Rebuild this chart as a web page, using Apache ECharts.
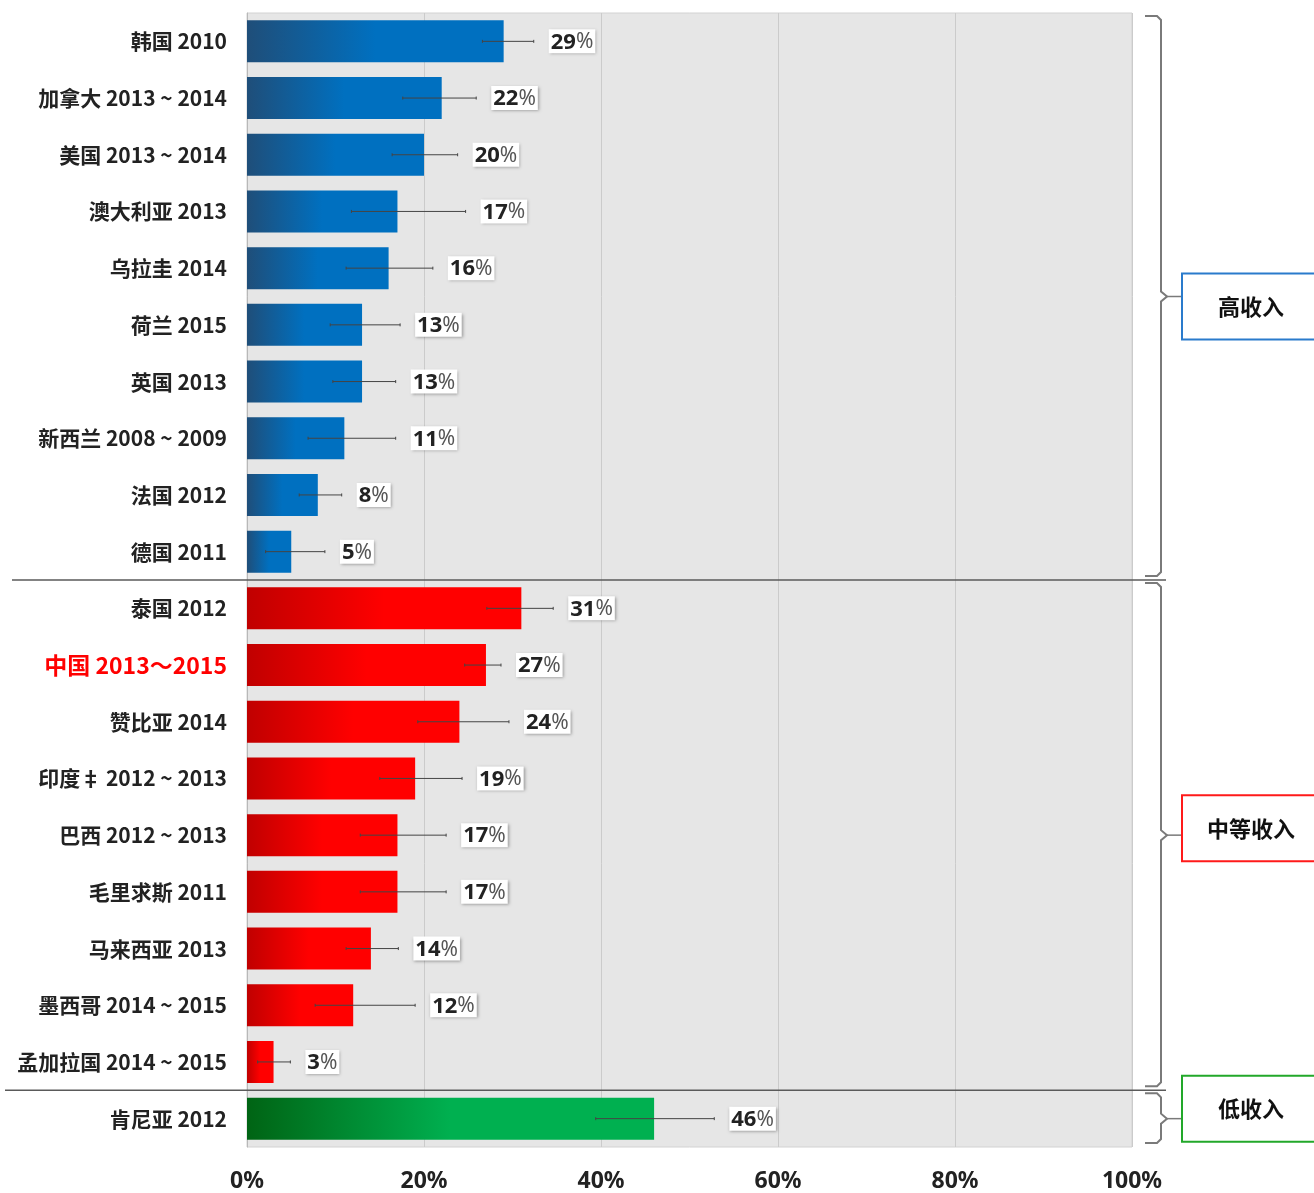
<!DOCTYPE html>
<html>
<head>
<meta charset="utf-8">
<script src="https://cdn.jsdelivr.net/npm/echarts@6/dist/echarts.min.js"></script>
<style>
  html, body { margin: 0; padding: 0; background: #fff; }
  #chart { width: 1314px; height: 1193px; }
</style>
</head>
<body>
<div id="chart"></div>
<script>
// Survey results by country and year, grouped by income level
const categories = [
  '韩国 2010', '加拿大 2013 ~ 2014', '美国 2013 ~ 2014', '澳大利亚 2013',
  '乌拉圭 2014', '荷兰 2015', '英国 2013', '新西兰 2008 ~ 2009', '法国 2012', '德国 2011',
  '泰国 2012', '中国 2013～2015', '赞比亚 2014', '印度‡ 2012 ~ 2013',
  '巴西 2012 ~ 2013', '毛里求斯 2011', '马来西亚 2013', '墨西哥 2014 ~ 2015',
  '孟加拉国 2014 ~ 2015', '肯尼亚 2012'
];
const shares = [29, 22, 20, 17, 16, 13, 13, 11, 8, 5, 31, 27, 24, 19, 17, 17, 14, 12, 3, 46];
const ciLow  = [26.6, 17.6, 16.4, 11.8, 11.2, 9.4, 9.7, 6.9, 5.9, 2.1, 27.1, 24.6, 19.3, 15.0, 12.8, 12.8, 11.2, 7.7, 1.2, 39.4];
const ciHigh = [32.4, 25.9, 23.8, 24.7, 21.0, 17.3, 16.8, 16.8, 10.7, 8.8, 34.6, 28.7, 29.6, 24.3, 22.5, 22.5, 17.1, 19.0, 4.9, 52.8];
const incomeGroup = [
  'high', 'high', 'high', 'high', 'high', 'high', 'high', 'high', 'high', 'high',
  'mid', 'mid', 'mid', 'mid', 'mid', 'mid', 'mid', 'mid', 'mid',
  'low'
];
const groupNames = { high: '高收入', mid: '中等收入', low: '低收入' };
const highlightCategory = '中国 2013～2015';
const tickLabels = ['0%', '20%', '40%', '60%', '80%', '100%'];

const groupStyle = {
  high: { dark: '#1f4e79', bright: '#0070c0', frame: '#2a7bcc' },
  mid:  { dark: '#c00000', bright: '#ff0000', frame: '#ff1a1a' },
  low:  { dark: '#006414', bright: '#00b050', frame: '#22a82a' }
};
// vertical nudge of each group's caption box relative to its bracket centre
const boxShift = { high: 10, mid: -7, low: -10 };

const CJK = "'Noto Sans CJK SC', 'Noto Sans', sans-serif";
const LATIN = "'Noto Sans', 'Noto Sans CJK SC', sans-serif";

const barData = shares.map((v, i) => {
  const s = groupStyle[incomeGroup[i]];
  return {
    value: v,
    itemStyle: {
      color: new echarts.graphic.LinearGradient(0, 0, 1, 0, [
        { offset: 0, color: s.dark },
        { offset: 0.5, color: s.bright },
        { offset: 1, color: s.bright }
      ])
    }
  };
});
const errData = shares.map((v, i) => [i, ciLow[i], ciHigh[i], v]);

const chart = echarts.init(document.getElementById('chart'));

chart.setOption({
  animation: false,
  backgroundColor: '#ffffff',
  grid: {
    left: 247, right: 182, top: 13, bottom: 46,
    show: true, backgroundColor: '#e6e6e6', borderColor: '#d2d2d2', borderWidth: 1
  },
  xAxis: {
    type: 'value', min: 0, max: 100, interval: 20,
    axisLine: { show: false },
    axisTick: { show: false },
    splitLine: { lineStyle: { color: '#cbcbcb', width: 1 } },
    axisLabel: {
      margin: 23, fontSize: 23, fontWeight: 'bold', color: '#222', fontFamily: LATIN,
      formatter: v => tickLabels[Math.round(v / 20)]
    }
  },
  yAxis: {
    type: 'category', data: categories, inverse: true,
    axisLine: { show: true, lineStyle: { color: '#b8b8b8', width: 1 } },
    axisTick: { show: false },
    splitLine: { show: false },
    axisLabel: {
      margin: 20,
      formatter: v => v === highlightCategory ? '{hl|' + v + '}' : '{n|' + v + '}',
      rich: {
        n:  { fontSize: 21, fontWeight: 'bold', color: '#222', fontFamily: CJK },
        hl: { fontSize: 23, fontWeight: 'bold', color: '#ff0000', fontFamily: CJK }
      }
    }
  },
  series: [
    {
      type: 'bar',
      data: barData,
      barCategoryGap: '26%',
      z: 2
    },
    {
      type: 'custom',
      data: errData,
      encode: { x: [1, 2], y: 0 },
      z: 5,
      renderItem: (params, api) => {
        const idx = api.value(0);
        const pLo = api.coord([api.value(1), idx]);
        const pHi = api.coord([api.value(2), idx]);
        const y = pLo[1];
        const stroke = { stroke: '#444', lineWidth: 1 };
        return {
          type: 'group',
          children: [
            { type: 'line', shape: { x1: pLo[0], y1: y, x2: pHi[0], y2: y }, style: stroke },
            { type: 'line', shape: { x1: pLo[0], y1: y - 1.5, x2: pLo[0], y2: y + 1.5 }, style: stroke },
            { type: 'line', shape: { x1: pHi[0], y1: y - 1.5, x2: pHi[0], y2: y + 1.5 }, style: stroke },
            {
              type: 'text',
              x: pHi[0] + 15, y: y,
              style: {
                text: '{n|' + api.value(3) + '}{p|%}',
                rich: {
                  n: { fontSize: 22, fontWeight: 'bold', fill: '#222', fontFamily: LATIN },
                  p: { fontSize: 21, fill: '#555', fontFamily: LATIN }
                },
                verticalAlign: 'middle',
                align: 'left',
                backgroundColor: '#ffffff',
                padding: [2, 2, 0, 2],
                shadowBlur: 3,
                shadowOffsetX: 1,
                shadowOffsetY: 1,
                shadowColor: 'rgba(0,0,0,0.35)'
              }
            }
          ]
        };
      }
    }
  ]
});

// Group separators, brackets and caption boxes derived from the axis layout
function buildAnnotations() {
  const yc = i => chart.convertToPixel({ yAxisIndex: 0 }, i);
  const xp = v => chart.convertToPixel({ xAxisIndex: 0 }, v);
  const band = yc(1) - yc(0);
  const right = xp(100);

  // contiguous runs of the same income group
  const runs = [];
  incomeGroup.forEach((g, i) => {
    const last = runs[runs.length - 1];
    if (last && last.group === g) last.end = i;
    else runs.push({ group: g, start: i, end: i });
  });

  const elements = [];
  runs.forEach((r, k) => {
    const top = yc(r.start) - band / 2;
    const bottom = yc(r.end) + band / 2;
    const mid = (top + bottom) / 2;
    const s = groupStyle[r.group];

    if (k > 0) {
      elements.push({
        type: 'line', z: 10,
        shape: { x1: k === 1 ? 12 : 5, y1: top, x2: right + 34, y2: top },
        style: { stroke: '#5a5a5a', lineWidth: 1.5 }
      });
    }

    const x0 = right + 13, x1 = right + 29;
    const t = top + 3, b = bottom - 4;
    elements.push({
      type: 'polyline', z: 10,
      shape: {
        points: [
          [x0, t], [x1 - 4, t], [x1, t + 4],
          [x1, mid - 5], [x1 + 6, mid], [x1, mid + 5],
          [x1, b - 4], [x1 - 4, b], [x0, b]
        ]
      },
      style: { stroke: '#7a7a7a', lineWidth: 2, fill: null }
    });
    const boxLeft = right + 50;
    elements.push({
      type: 'line', z: 10,
      shape: { x1: x1 + 6, y1: mid, x2: boxLeft, y2: mid },
      style: { stroke: '#7a7a7a', lineWidth: 1.5 }
    });
    const boxH = 66;
    const boxC = mid + boxShift[r.group];
    elements.push({
      type: 'rect', z: 11,
      shape: { x: boxLeft, y: boxC - boxH / 2, width: 200, height: boxH },
      style: { fill: '#ffffff', stroke: s.frame, lineWidth: 2 }
    });
    elements.push({
      type: 'text', z: 12,
      x: boxLeft + 69, y: boxC,
      style: {
        text: groupNames[r.group],
        fontSize: 22, fontWeight: 'bold', fill: '#111', fontFamily: CJK,
        align: 'center', verticalAlign: 'middle'
      }
    });
  });

  chart.setOption({ graphic: { elements: elements } });
}
buildAnnotations();
</script>
</body>
</html>
